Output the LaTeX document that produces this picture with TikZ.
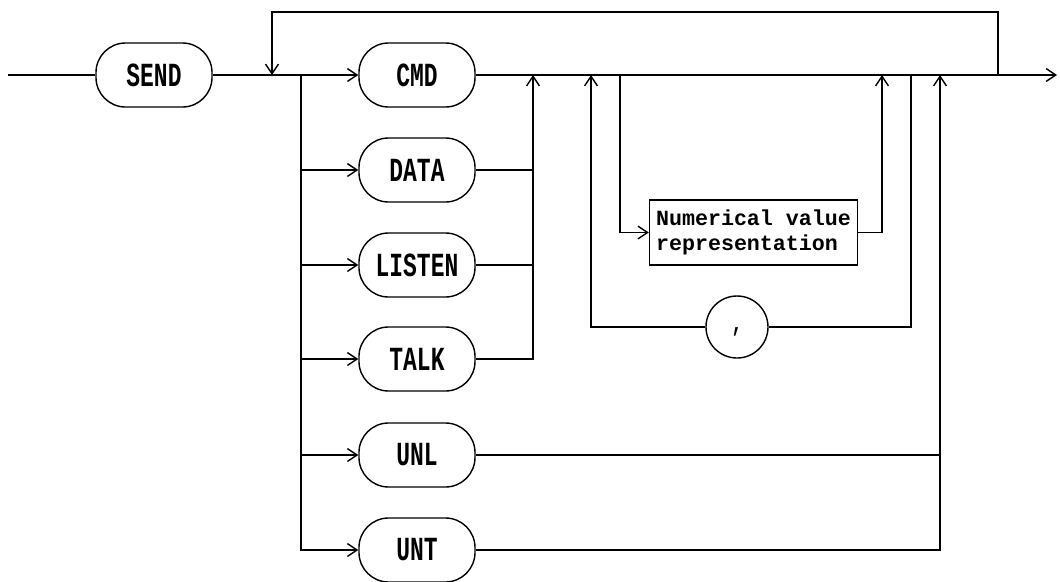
\documentclass[tikz,border=0pt]{standalone}
\usepackage{fontspec}
\usetikzlibrary{arrows.meta,positioning}
\newfontfamily\keyfont[FakeStretch=0.68]{Liberation Mono}
\newfontfamily\valfont{Liberation Mono}
\tikzset{
 keybox/.style={draw,line width=1pt,rounded corners=0.74cm,minimum width=2.9cm,
  minimum height=1.6cm,inner sep=0pt,font=\keyfont\bfseries\fontsize{24}{26}\selectfont},
 valbox/.style={draw,line width=1pt,minimum width=5.2cm,minimum height=1.62cm,
  inner sep=2pt,align=left,font=\valfont\bfseries\fontsize{15.4}{17.5}\selectfont},
 sepbox/.style={draw,circle,line width=1pt,minimum size=1.55cm,inner sep=0pt,
  font=\keyfont\bfseries\fontsize{19}{22}\selectfont}
}

\begin{document}
\begin{tikzpicture}[>={Straight Barb[length=2.4mm,width=3.2mm]},x=0.025cm,y=-0.025cm,line width=1pt]
\useasboundingbox (0,0) rectangle (1060,581);
\coordinate (in) at (8,75);
\node[keybox] (send) at (154,75) {SEND};
\coordinate (rep) at (272,75);
\coordinate (fork) at (301,75);
\foreach \name/\word/\y in {
 cmd/CMD/75, data/DATA/170, listen/LISTEN/265,
 talk/TALK/359, unl/UNL/455, unt/UNT/550}{
 \node[keybox] (\name) at (417,\y) {\word};
}
\coordinate (join) at (533,75);
\coordinate (cback) at (591,75);
\coordinate (vsplit) at (620,75);
\node[valbox] (num) at (753.5,232.5) {Numerical value\\representation};
\coordinate (vjoin) at (882,75);
\coordinate (csplit) at (911,75);
\node[sepbox] (comma) at (737,327) {\raisebox{-3pt}[0pt][0pt]{,}};
\coordinate (ujoin) at (940,75);
\coordinate (back) at (998,75);
\coordinate (looptop) at (998,12);
\coordinate (out) at (1057,75);
\draw (in) -- (send);
\draw[->] (send) -- (cmd);
\draw[->] (cmd) -- (out);
\draw[->] (back) -- (looptop) -| (rep);
\foreach \name in {data,listen,talk,unl,unt}
 \draw[->] (fork) |- (\name);
\draw (data) -- (data -| join);
\draw (listen) -- (listen -| join);
\draw[->] (talk) -| (join);
\draw[->] (vsplit) |- (num);
\draw[->] (num) -| (vjoin);
\draw (csplit) |- (comma);
\draw[->] (comma) -| (cback);
\draw (unl) -- (unl -| ujoin);
\draw[->] (unt) -| (ujoin);
\end{tikzpicture}
\end{document}
